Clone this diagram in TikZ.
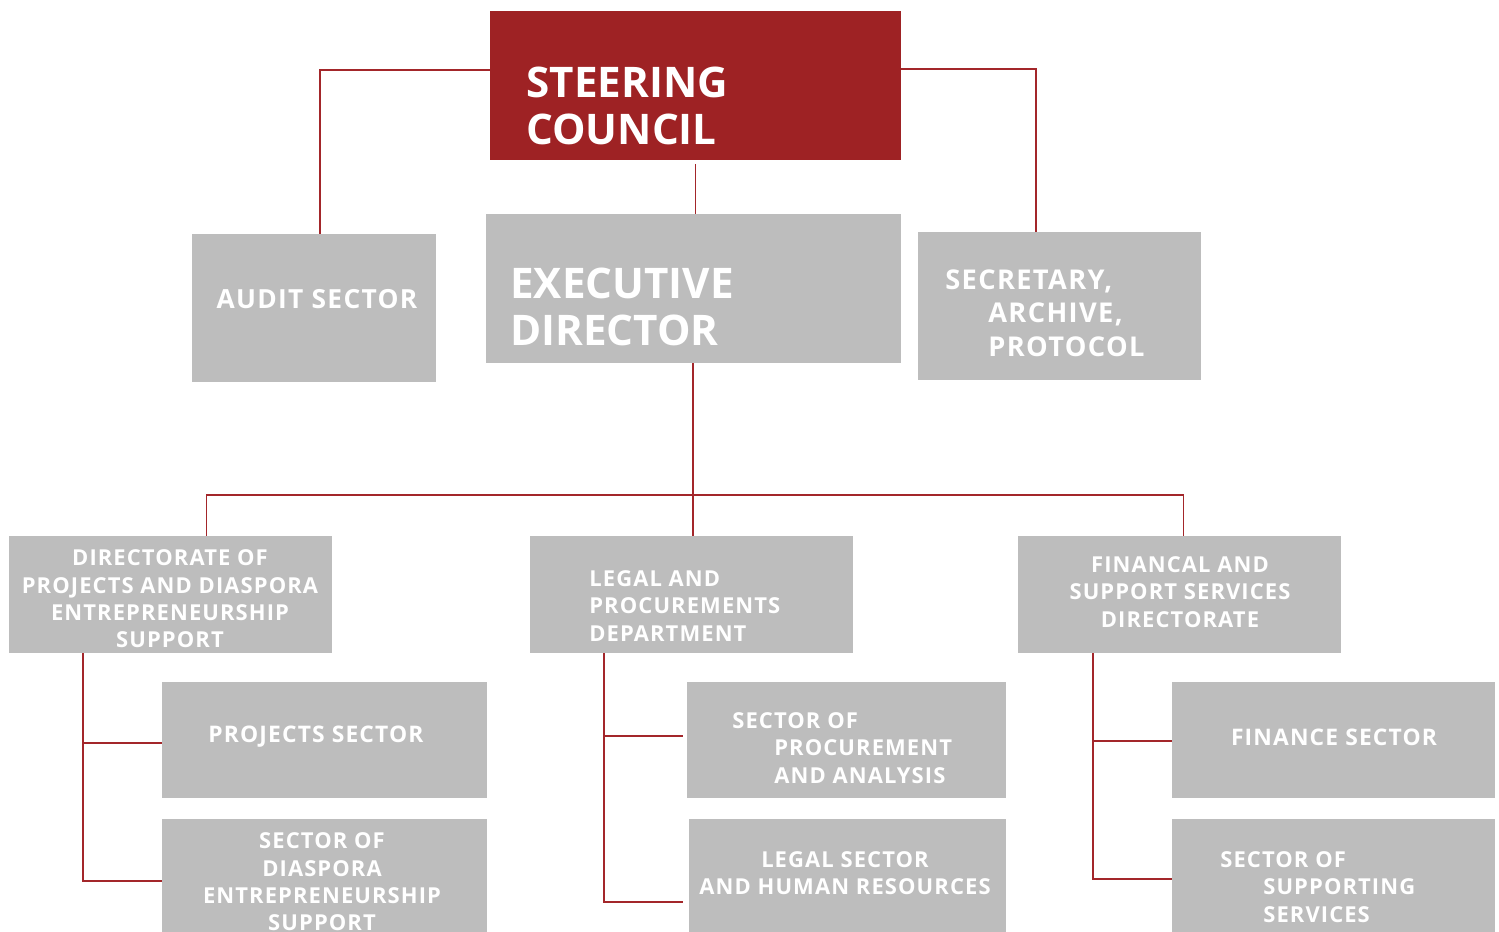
\documentclass[tikz,border=0pt]{standalone}
\usepackage{fontspec}
\setmainfont{Open Sans}
\newfontfamily\boxfont{Open Sans}[LetterSpace=5]
\usetikzlibrary{calc, fit}

\definecolor{councilred}{HTML}{9E2224}
\definecolor{linkred}{HTML}{A3262A}
\definecolor{boxgrey}{HTML}{BDBDBD}

\tikzset{
    redbox/.style={fill=councilred, inner sep=0pt},
    greybox/.style={fill=boxgrey, inner sep=0pt},
    link/.style={draw=linkred, line width=1.1pt},
    txt/.style={text=white, inner sep=0pt, font=\boxfont\bfseries},
    bigtxt/.style={txt, align=left, font=\fontsize{24}{27.2}\selectfont\bfseries},
    midtxt/.style={txt, align=left, font=\fontsize{15.5}{19}\selectfont\boxfont\bfseries},
    smalltxt/.style={txt, align=center, font=\fontsize{12.5}{15.6}\selectfont\boxfont\bfseries},
    onetxt/.style={txt, font=\fontsize{13}{15.6}\selectfont\boxfont\bfseries},
}

\begin{document}
\begin{tikzpicture}[x=0.02cm, y=-0.02cm]
        \useasboundingbox (0,0) rectangle (1499,931);

        \node[redbox, fit={(490,11)(901,160)}] (steer) {};
        \node[greybox, fit={(486,214)(901,363)}] (exec) {};
        \node[greybox, fit={(192,234)(436,382)}] (audit) {};
        \node[greybox, fit={(918,232)(1201,380)}] (sec) {};

        \node[greybox, fit={(9,536)(332,653)}] (dir) {};
        \node[greybox, fit={(530,536)(853,653)}] (legal) {};
        \node[greybox, fit={(1018,536)(1341,653)}] (fin) {};

        \node[greybox, fit={(162,682)(487,798)}] (projs) {};
        \node[greybox, fit={(162,819)(487,940)}] (dias) {};
        \node[greybox, fit={(687,682)(1006,798)}] (proc) {};
        \node[greybox, fit={(689,819)(1006,940)}] (lhr) {};
        \node[greybox, fit={(1172,682)(1495,798)}] (fins) {};
        \node[greybox, fit={(1172,819)(1495,940)}] (supp) {};

        \coordinate (hub) at (693,495);

        \draw[link] ($(steer.north west)+(0,59)$) -| ($(audit.north)+(6,0)$);
        \draw[link] ($(steer.north east)+(0,58)$) -| ($(sec.north west)+(118,0)$);
        \draw[link] ([yshift=-2pt]steer.south) -- (steer.south |- exec.north);
        \draw[link] (hub |- exec.south) -- (hub) -- (hub |- legal.north);
        \draw[link] ($(dir.north)+(36,0)$) |- (hub) -| ($(fin.north)+(4,0)$);

        \draw[link] ($(dir.south west)+(74,0)$) |- ($(projs.north west)+(0,61)$);
        \draw[link] ($(dir.south west)+(74,0)$) |- ($(dias.north west)+(0,62)$);
        \draw[link] ($(legal.south west)+(74,0)$) |- ($(proc.north west)+(-4,54)$);
        \draw[link] ($(legal.south west)+(74,0)$) |- ($(lhr.north west)+(-6,83)$);
        \draw[link] ($(fin.south west)+(75,0)$) |- ($(fins.north west)+(0,59)$);
        \draw[link] ($(fin.south west)+(75,0)$) |- ($(supp.north west)+(0,60)$);

        \node[bigtxt, anchor=west] (steer-t) at (526,106) {STEERING\\COUNCIL};
        \node[bigtxt, anchor=west] (exec-t) at (510,307) {EXECUTIVE\\DIRECTOR};
        \node[onetxt, font=\fontsize{15}{19}\selectfont\boxfont\bfseries] (audit-t) at (317,299) {AUDIT SECTOR};
        \node[midtxt, anchor=west] (sec-t) at (945,313) {SECRETARY,\\\hspace*{0.86cm}ARCHIVE,\\\hspace*{0.86cm}PROTOCOL};

        \node[smalltxt] (dir-t) at (170,599) {DIRECTORATE OF\\PROJECTS AND DIASPORA\\ENTREPRENEURSHIP\\SUPPORT};
        \node[smalltxt, anchor=west, align=left] (legal-t) at (589,606) {LEGAL AND\\PROCUREMENTS\\DEPARTMENT};
        \node[smalltxt] (fin-t) at (1180,592) {FINANCAL AND\\SUPPORT SERVICES\\DIRECTORATE};

        \node[onetxt] (projs-t) at (316,737) {PROJECTS SECTOR};
        \node[smalltxt] (dias-t) at (322,882) {SECTOR OF\\DIASPORA\\ENTREPRENEURSHIP\\SUPPORT};
        \node[smalltxt, anchor=west, align=left] (proc-t) at (732,748) {SECTOR OF\\\hspace*{0.84cm}PROCUREMENT\\\hspace*{0.84cm}AND ANALYSIS};
        \node[smalltxt] (lhr-t) at (845,873) {LEGAL SECTOR\\AND HUMAN RESOURCES};
        \node[onetxt] (fins-t) at (1334,737) {FINANCE SECTOR};
        \node[smalltxt, anchor=west, align=left] (supp-t) at (1220,887) {SECTOR OF\\\hspace*{0.86cm}SUPPORTING\\\hspace*{0.86cm}SERVICES};
\end{tikzpicture}
\end{document}
